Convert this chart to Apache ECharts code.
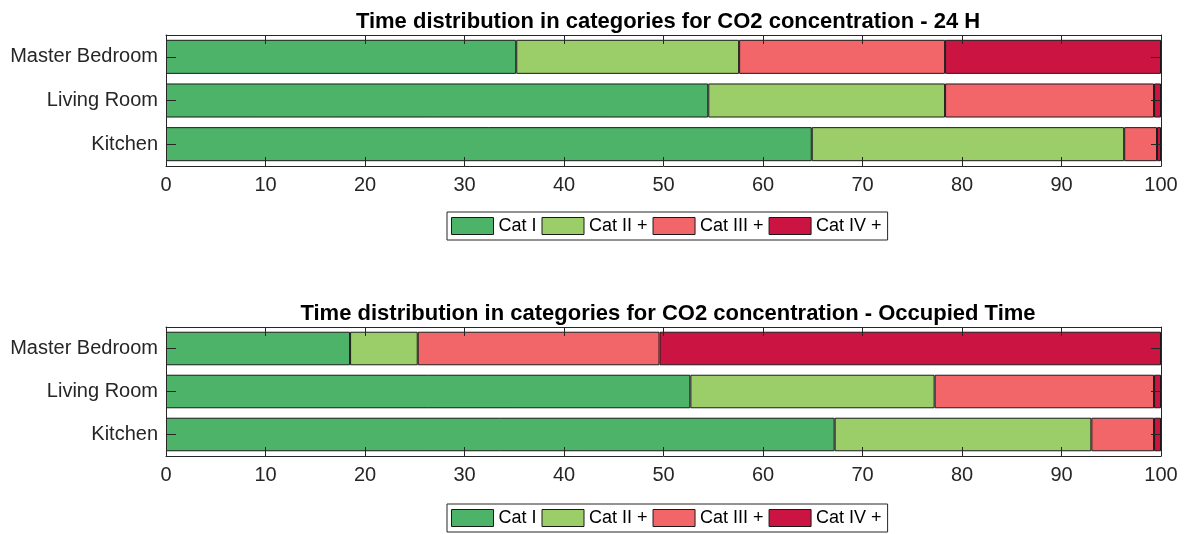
<!DOCTYPE html>
<html>
<head>
<meta charset="utf-8">
<script src="https://cdn.jsdelivr.net/npm/echarts@6/dist/echarts.min.js"></script>
<style>
  html, body { margin: 0; padding: 0; background: #fff; }
  #chart { width: 1185px; height: 534px; }
</style>
</head>
<body>
<div id="chart"></div>
<script>
// rooms, bottom to top
var rooms = ['Kitchen', 'Living Room', 'Master Bedroom'];
var catNames = ['Cat I', 'Cat II +', 'Cat III +', 'Cat IV +'];
var catColors = ['#4db368', '#9bcd69', '#f2666a', '#cc1442'];
var xTicks = [0, 10, 20, 30, 40, 50, 60, 70, 80, 90, 100];

// 24 H (percent of time), order: Kitchen, Living Room, Master Bedroom
var day1 = [64.9, 54.5, 35.2];
var day2 = [31.4, 23.8, 22.4];
var day3 = [3.3, 21.0, 20.7];
var day4 = [0.4, 0.7, 21.7];

// occupied time
var occ1 = [67.2, 52.7, 18.5];
var occ2 = [25.8, 24.55, 6.8];
var occ3 = [6.3, 22.05, 24.3];
var occ4 = [0.7, 0.7, 50.4];

var titles = [
    'Time distribution in categories for CO2 concentration - 24 H',
    'Time distribution in categories for CO2 concentration - Occupied Time'
];

var font = 'Liberation Sans, Arial, Helvetica, sans-serif';
var ink = '#262626';

var grids = [
    {left: 166, top: 35, width: 995, height: 131},
    {left: 166, top: 327, width: 995, height: 129}
];

function xAxisFor(idx, pos) {
    return {
        type: 'value', gridIndex: idx, position: pos, z: 10,
        min: 0, max: 100, interval: 10,
        axisLine: {show: true, onZero: false, lineStyle: {color: ink, width: 1}},
        axisTick: {show: true, inside: true, length: 9, lineStyle: {color: ink}},
        axisLabel: {show: pos === 'bottom', color: ink, fontSize: 20, fontFamily: font, margin: 9,
            formatter: function (v) { return xTicks.indexOf(v) >= 0 ? String(v) : ''; }},
        splitLine: {show: false}
    };
}

function yAxisFor(idx, pos) {
    return {
        type: 'category', gridIndex: idx, position: pos, data: rooms, z: 10,
        axisLine: {show: true, onZero: false, lineStyle: {color: ink, width: 1}},
        axisTick: {show: true, inside: true, length: 10, alignWithLabel: true, lineStyle: {color: ink}},
        axisLabel: {show: pos === 'left', color: ink, fontSize: 20, fontFamily: font, margin: 8},
        splitLine: {show: false}
    };
}

var sets = [[day1, day2, day3, day4], [occ1, occ2, occ3, occ4]];
var series = [];
sets.forEach(function (vals, g) {
    vals.forEach(function (d, i) {
        series.push({
            name: catNames[i], type: 'bar', stack: 's' + g,
            xAxisIndex: g * 2, yAxisIndex: g * 2,
            barWidth: '78%',
            data: d,
            itemStyle: {color: catColors[i], borderColor: '#1a1a1a', borderWidth: 1},
            emphasis: {disabled: true}
        });
    });
});

function legendAt(top) {
    return {
        data: catNames.map(function (n) { return {name: n, icon: 'rect'}; }),
        left: 447, top: top,
        orient: 'horizontal',
        itemWidth: 42, itemHeight: 17, itemGap: 5,
        padding: [5, 6, 5, 4],
        borderColor: ink, borderWidth: 1,
        itemStyle: {borderColor: '#1a1a1a', borderWidth: 1},
        textStyle: {color: '#000', fontSize: 18, fontFamily: font},
        selectedMode: false
    };
}

var chart = echarts.init(document.getElementById('chart'));
chart.setOption({
    animation: false,
    backgroundColor: '#fff',
    title: titles.map(function (t, i) {
        return {
            text: t, left: 663, top: i === 0 ? 6 : 298, textAlign: 'center',
            textStyle: {fontSize: 22, fontWeight: 'bold', color: '#000', fontFamily: font}
        };
    }),
    legend: [legendAt(212), legendAt(504)],
    grid: grids,
    xAxis: [xAxisFor(0, 'bottom'), xAxisFor(0, 'top'), xAxisFor(1, 'bottom'), xAxisFor(1, 'top')],
    yAxis: [yAxisFor(0, 'left'), yAxisFor(0, 'right'), yAxisFor(1, 'left'), yAxisFor(1, 'right')],
    series: series
});
</script>
</body>
</html>
